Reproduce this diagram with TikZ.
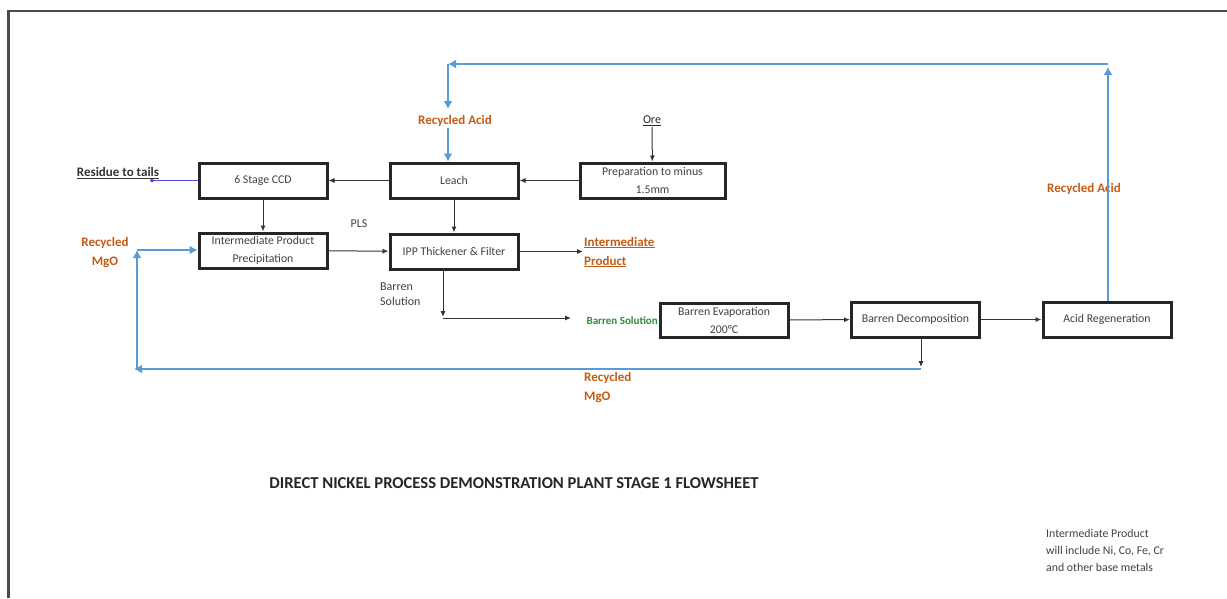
\documentclass[tikz,border=0pt]{standalone}
\usepackage{fontspec}
\setmainfont{Carlito}
\usepackage{xcolor}
\usepackage{tikz}
\usetikzlibrary{arrows.meta, positioning, calc}

\definecolor{recycled}{HTML}{C55A11}
\definecolor{flowblue}{HTML}{5B9BD5}
\definecolor{barrengreen}{HTML}{2E8B3A}
\definecolor{tailsblue}{HTML}{4B4BD8}

\begin{document}
\begin{tikzpicture}[
  x=1pt, y=-1pt,
  block/.style={rectangle, draw=black!85, line width=3pt,
    minimum width=128pt, minimum height=35pt, align=center,
    font=\fontsize{11.8}{18}\selectfont, text=black!75, inner sep=1pt},
  arrow/.style={-{Latex[length=6pt,width=5pt]}, line width=1pt, draw=black!80},
  recycle/.style={-{Latex[length=8pt,width=9pt]}, line width=2.6pt, draw=flowblue},
  flowlabel/.style={font=\bfseries\fontsize{13}{19}\selectfont,
    text=recycled, align=center, inner sep=1pt},
  plain/.style={font=\fontsize{12}{15}\selectfont, text=black!75, inner sep=1pt}
]
\useasboundingbox (0,0) rectangle (1227,598);
\draw[line width=2.5pt, black!70] (8.5,598) -- (8.5,11) -- (1227,11);

% process blocks
\node (ccd)    [block] at (263,180.5)   {6 Stage CCD};
\node (prec)   [block] at (263,250.5)   {Intermediate Product\\Precipitation};
\node (leach)  [block] at (454,180.5)   {Leach};
\node (prep)   [block, minimum width=145pt] at (652.5,180.5)
  {Preparation to minus\\1.5mm};
\node (thick)  [block] at (454,251.5)   {IPP Thickener \& Filter};
\node (evap)   [block, minimum height=34pt] at (724,320)
  {Barren Evaporation\\200\textdegree C};
\node (decomp) [block] at (915.5,319.5) {Barren Decomposition};
\node (regen)  [block] at (1107,319.5)  {Acid Regeneration};

% stream labels
\node (ore)     [plain, text=black!85] at (652,121) {\underline{Ore}};
\node (tails)   [plain, font=\bfseries\fontsize{13}{15}\selectfont, text=black!80]
  at (118,173) {\underline{Residue to tails}};
\node (pls)     [plain] at (359,224) {PLS};
\node (intprod) [flowlabel, align=left, anchor=west] at (583,252)
  {\underline{Intermediate}\\\underline{Product}};
\node (bsolA)   [plain, align=left, anchor=west] at (379,294) {Barren\\Solution};
\node (bsolB)   [plain, font=\bfseries\fontsize{11}{12}\selectfont, text=barrengreen,
  anchor=east] at (659,321) {Barren Solution};
\node (acidA)   [flowlabel] at (455,121) {Recycled Acid};
\node (acidB)   [flowlabel] at (1084,189) {Recycled Acid};
\node (mgoA)    [flowlabel] at (105,253) {Recycled\\MgO};
\node (mgoB)    [flowlabel, align=left, anchor=west] at (583,388) {Recycled\\MgO};

\node (title) [font=\bfseries\fontsize{16.6}{18}\selectfont, text=black!85]
  at (514,483) {DIRECT NICKEL PROCESS DEMONSTRATION PLANT STAGE 1 FLOWSHEET};
\node (remark) [plain, font=\fontsize{11.8}{17}\selectfont, align=left, anchor=west]
  at (1045,550) {Intermediate Product\\will include Ni, Co, Fe, Cr\\and other base metals};

% turning points
\coordinate (tailsend) at (150,180.5);
\coordinate (bcorner)  at (443,317);
\coordinate (bend)     at (571,318);
\coordinate (mgodrop)  at (921,367);
\coordinate (mgoleft)  at (134,369);
\coordinate (mgoup)    at (137,250);
\coordinate (acidtop)  at (1108,67);
\coordinate (acidleft) at (448,64);
\coordinate (aciddown) at (448,109);

% main flow
\draw[arrow] (ore) -- (prep);
\draw[arrow] (prep) -- (leach);
\draw[arrow] (leach) -- (ccd);
\draw[line width=1pt, tailsblue, -{Circle[length=4pt]}] (ccd) -- (tailsend);
\draw[arrow] (ccd) -- (prec);
\draw[arrow] (leach) -- (thick);
\draw[arrow] (prec) -- (thick);
\draw[arrow] (thick) -- (intprod.west |- thick);
\draw[arrow] (thick.south -| bcorner) -- (bcorner);
\draw[arrow] (bcorner |- bend) -- (bend);
\draw[arrow] (evap) -- (decomp);
\draw[arrow] (decomp) -- (regen);
\draw[arrow] (decomp.south -| mgodrop) -- (mgodrop);

% recycled MgO
\draw[recycle] (mgodrop |- mgoleft) -- (mgoleft);
\draw[recycle] (mgoup |- mgoleft) -- (mgoup);
\draw[recycle] (mgoup) -- (prec.west |- mgoup);

% recycled acid
\draw[recycle] (regen.north -| acidtop) -- (acidtop);
\draw[recycle] (acidtop |- acidleft) -- (acidleft);
\draw[recycle] (acidleft) -- (aciddown);
\draw[recycle] (acidA.south -| aciddown) -- (leach.north -| aciddown);

\end{tikzpicture}
\end{document}
